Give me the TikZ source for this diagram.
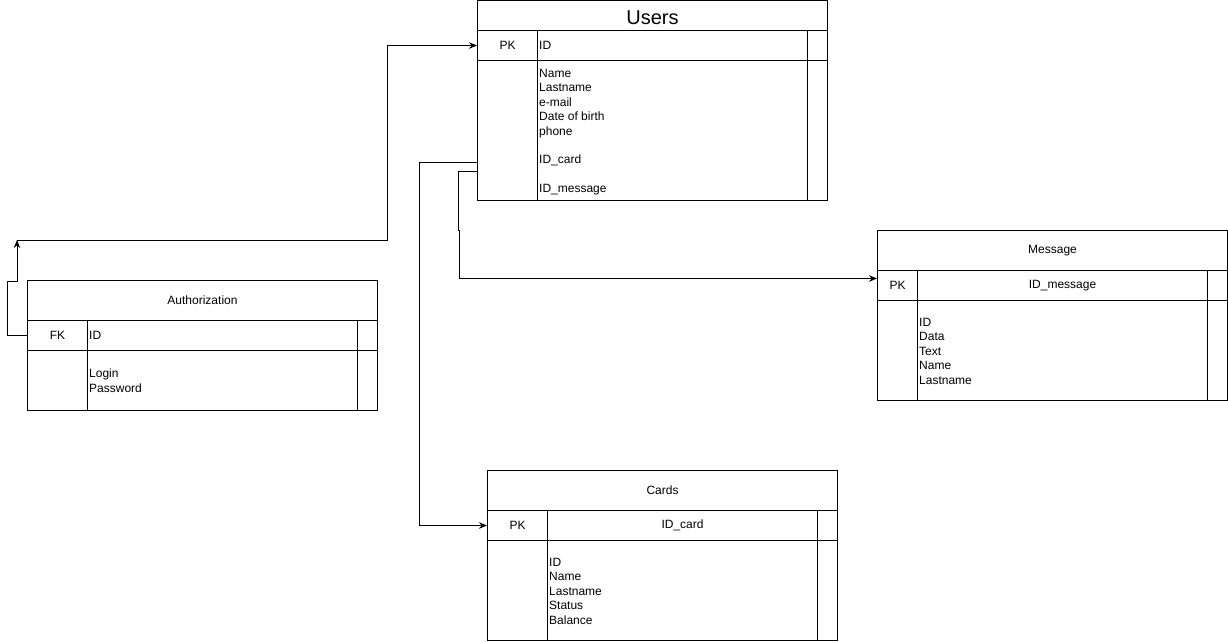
\documentclass[tikz,border=0pt]{standalone}
\usepackage{fontspec}
\setmainfont{Liberation Sans}
\usetikzlibrary{arrows.meta}
\begin{document}
\begin{tikzpicture}[x=1pt,y=-1pt,
  cell/.style={draw=black, line width=1pt, anchor=north west, inner sep=0pt,
    font=\fontsize{12}{14.4}\selectfont},
  txt/.style={inner sep=0pt, font=\fontsize{12}{14.4}\selectfont},
  fields/.style={txt, anchor=north west, align=left},
  link/.style={draw=black, line width=1pt},
  tip/.style={-{Stealth[length=8pt,width=6.5pt]}}
]
\useasboundingbox (0,0) rectangle (1228,641);

% ---------- Users ----------
\node[cell, minimum width=350, minimum height=30, font=\fontsize{20}{24}\selectfont] (users-title) at (477,0) {\raisebox{-2.5pt}[\height][0pt]{Users}};
\node[cell, minimum width=60,  minimum height=30]  (users-pk)  at (477,30) {PK};
\node[cell, minimum width=270, minimum height=30]  (users-id)  at (537,30) {};
\node[cell, minimum width=20,  minimum height=30]  (users-idx) at (807,30) {};
\node[cell, minimum width=60,  minimum height=140] (users-bk)  at (477,60) {};
\node[cell, minimum width=270, minimum height=140] (users-bf)  at (537,60) {};
\node[cell, minimum width=20,  minimum height=140] (users-bx)  at (807,60) {};
\node[txt, anchor=west] (users-idt) at ([xshift=2pt]users-id.west) {ID};
\node[fields] (users-fields) at (539,69)
  {Name\\Lastname\\e-mail\\Date of birth\\phone\\[14.4pt]ID\_card\\[14.4pt]ID\_message};

% ---------- Authorization ----------
\node[cell, minimum width=350, minimum height=40] (auth-title) at (27,280) {Authorization};
\node[cell, minimum width=60,  minimum height=30] (auth-pk)  at (27,320) {FK};
\node[cell, minimum width=270, minimum height=30] (auth-id)  at (87,320) {};
\node[cell, minimum width=20,  minimum height=30] (auth-idx) at (357,320) {};
\node[cell, minimum width=60,  minimum height=60] (auth-bk)  at (27,350) {};
\node[cell, minimum width=270, minimum height=60] (auth-bf)  at (87,350) {};
\node[cell, minimum width=20,  minimum height=60] (auth-bx)  at (357,350) {};
\node[txt, anchor=west] (auth-idt) at ([xshift=2pt]auth-id.west) {ID};
\node[fields] (auth-fields) at (89,369) {Login\\Password};

% ---------- Message ----------
\node[cell, minimum width=350, minimum height=40]  (msg-title) at (877,230) {Message};
\node[cell, minimum width=40,  minimum height=30]  (msg-pk)  at (877,270) {PK};
\node[cell, minimum width=290, minimum height=30]  (msg-id)  at (917,270) {ID\_message};
\node[cell, minimum width=20,  minimum height=30]  (msg-idx) at (1207,270) {};
\node[cell, minimum width=40,  minimum height=100] (msg-bk)  at (877,300) {};
\node[cell, minimum width=290, minimum height=100] (msg-bf)  at (917,300) {};
\node[cell, minimum width=20,  minimum height=100] (msg-bx)  at (1207,300) {};
\node[fields] (msg-fields) at (919,318) {ID\\Data\\Text\\Name\\Lastname};

% ---------- Cards ----------
\node[cell, minimum width=350, minimum height=40]  (cards-title) at (487,470) {Cards};
\node[cell, minimum width=60,  minimum height=30]  (cards-pk)  at (487,510) {PK};
\node[cell, minimum width=270, minimum height=30]  (cards-id)  at (547,510) {ID\_card};
\node[cell, minimum width=20,  minimum height=30]  (cards-idx) at (817,510) {};
\node[cell, minimum width=60,  minimum height=100] (cards-bk)  at (487,540) {};
\node[cell, minimum width=270, minimum height=100] (cards-bf)  at (547,540) {};
\node[cell, minimum width=20,  minimum height=100] (cards-bx)  at (817,540) {};
\node[fields] (cards-fields) at (549,558) {ID\\Name\\Lastname\\Status\\Balance};

% ---------- Relations ----------
\coordinate (bend) at (17,240);
\draw[link, tip] (auth-pk.west) -| (7,281) -- (17,281) -- (bend);
\draw[link, tip] (bend) -- (387,240) |- (users-pk.west);
\draw[link, tip] ([yshift=-32pt]users-bk.west) -- ++(-58,0) |- (cards-pk.west);
\draw[link, tip] ([yshift=-41pt]users-bk.west) -- ++(-19,0) -- (458,230) -- (459,230)
  |- ([yshift=7pt]msg-pk.west);
\end{tikzpicture}
\end{document}
